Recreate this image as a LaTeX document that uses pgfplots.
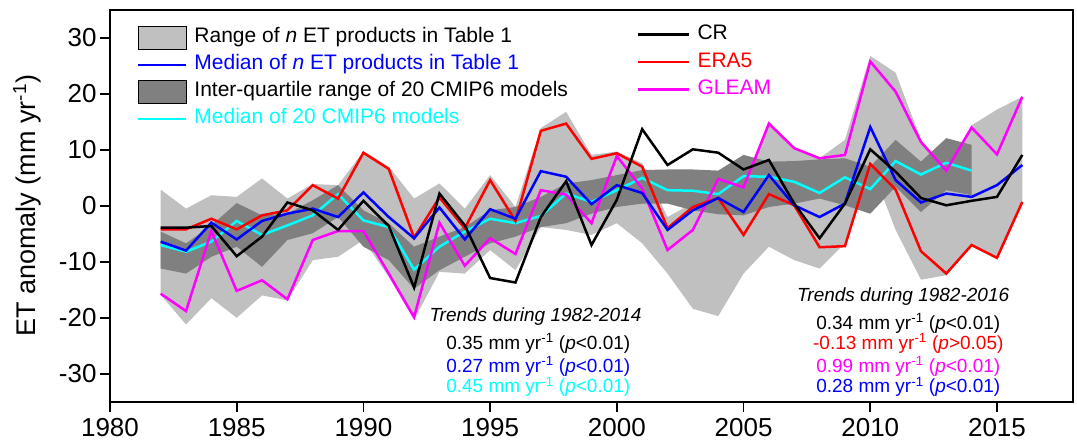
\documentclass[border=0pt]{standalone}
\usepackage{fontspec}
\setmainfont{Liberation Sans}
\usepackage{pgfplots}
\pgfplotsset{compat=1.18}
\usepgfplotslibrary{fillbetween}
\usepackage{pgfplotstable}
\definecolor{lgray}{RGB}{192,192,192}
\definecolor{dgray}{RGB}{128,128,128}
\definecolor{ccyan}{RGB}{0,255,255}
\definecolor{cmag}{RGB}{255,0,255}
\definecolor{cred}{RGB}{255,0,0}
\definecolor{cblue}{RGB}{0,0,255}

\pgfplotstableread{
year cr era5 gleam med lo hi
1982 -3.9 -4.2 -15.7 -6.4 -15.9 2.9
1983 -3.9 -4.2 -18.8 -8.0 -21.2 -0.5
1984 -3.6 -2.3 -4.5 -3.0 -16.5 1.9
1985 -9.0 -4.2 -15.2 -6.0 -20.0 1.6
1986 -5.5 -1.7 -13.3 -2.7 -16.0 4.9
1987 0.6 -0.8 -16.7 -1.4 -16.9 1.3
1988 -0.8 3.7 -6.1 -0.5 -9.7 3.9
1989 -4.3 1.3 -4.5 -2.0 -9.1 3.7
1990 0.9 9.5 -4.5 2.4 -6.1 9.7
1991 -3.6 6.6 -12.1 -2.0 -12.7 7.0
1992 -14.6 -5.7 -19.9 -5.8 -20.4 1.3
1993 2.2 1.5 -3.0 -0.3 -11.8 4.0
1994 -3.5 -4.0 -10.7 -6.0 -12.1 -0.5
1995 -12.9 4.6 -5.8 -0.6 -7.9 5.5
1996 -13.7 -2.7 -8.6 -2.3 -11.5 -0.2
1997 -2.0 13.4 2.8 6.2 -3.8 13.9
1998 4.4 14.7 2.0 5.2 -4.3 16.8
1999 -7.0 8.4 -3.1 0.3 -5.2 9.1
2000 1.1 9.4 8.9 3.7 -3.1 9.7
2001 13.7 7.0 3.1 2.3 -6.7 7.6
2002 7.3 -4.0 -7.9 -4.3 -12.1 -2.0
2003 10.1 -0.2 -4.3 -0.8 -18.4 0.5
2004 9.5 1.4 4.8 1.4 -19.7 5.0
2005 6.5 -5.2 3.3 -1.1 -12.1 4.0
2006 8.2 2.1 14.7 5.5 -7.3 14.7
2007 0.4 0.1 10.3 0.1 -9.7 10.3
2008 -5.8 -7.4 8.5 -2.0 -11.2 8.5
2009 0.4 -7.2 9.1 0.4 -6.7 11.8
2010 10.1 7.5 25.8 14.1 7.5 26.8
2011 6.1 2.9 20.4 4.6 -4.3 23.8
2012 1.4 -8.1 11.4 0.6 -13.2 11.8
2013 0.1 -12.1 6.3 2.2 -12.4 6.5
2014 0.9 -7.0 14.0 1.6 -7.3 14.4
2015 1.6 -9.3 9.2 3.7 -9.3 17.2
2016 9.1 0.7 19.5 7.3 0.7 19.5
}\products

\pgfplotstableread{
year med lo hi
1982 -7.0 -11.2 -4.6
1983 -8.2 -12.1 -6.7
1984 -6.4 -9.1 -3.5
1985 -2.7 -7.3 0.5
1986 -5.2 -10.9 -1.7
1987 -3.5 -6.1 -1.4
1988 -1.7 -4.9 1.0
1989 2.1 -2.0 3.7
1990 -2.6 -7.3 -0.8
1991 -3.8 -9.7 -3.1
1992 -11.4 -14.8 -7.3
1993 -7.3 -11.5 -5.5
1994 -4.6 -9.1 -3.8
1995 -2.3 -6.7 -0.8
1996 -3.1 -5.5 -0.2
1997 -1.8 -3.8 1.6
1998 2.2 -3.1 4.0
1999 0.7 -1.4 4.6
2000 2.8 -0.2 5.5
2001 5.0 0.4 6.4
2002 2.8 0.4 6.5
2003 2.7 -0.8 6.5
2004 2.1 -1.5 6.3
2005 5.3 -1.7 9.1
2006 5.2 -0.2 7.9
2007 4.3 0.4 8.0
2008 2.3 1.3 8.3
2009 5.1 0.1 8.5
2010 3.0 -1.4 7.0
2011 8.0 3.4 11.8
2012 5.6 -1.1 7.9
2013 7.7 2.8 12.1
2014 6.3 1.9 10.9
}\cmip

\pgfplotsset{
  rectimg/.style={legend image code/.code={\draw[##1] (0pt,-11.5pt) rectangle (48pt,11.5pt);}},
  lineimg/.style={legend image code/.code={\draw[##1] (0pt,0pt) -- (#1,0pt);}},
  base/.style={
    scale only axis, width=963pt, height=391.7pt,
    xmin=1980, xmax=2018, ymin=-35, ymax=35,
  },
  legfont/.style={font=\fontsize{21}{21}\selectfont},
}

\begin{document}
\begin{tikzpicture}
\begin{axis}[base,
  xtick={1980,1985,...,2015}, ytick={-30,-20,...,30},
  tick pos=left, tick align=outside, major tick length=10pt,
  tick style={line width=1.8pt, black},
  axis line style={line width=1.8pt},
  ticklabel style={font=\fontsize{26}{26}\selectfont},
  x tick label style={yshift=-3pt},
  /pgf/number format/assume math mode=true,
  /pgf/number format/1000 sep={},
  ylabel={ET anomaly (mm yr\textsuperscript{-1})},
  ylabel style={font=\fontsize{27}{27}\selectfont, at={(axis description cs:-0.0862,0.5)}, anchor=center},
  legend cell align=left,
  legend style={draw=none, fill=none, inner sep=0pt, outer sep=0pt,
    at={(rel axis cs:0.028,0.963)}, anchor=north west, legfont,
    nodes={text height=15pt, text depth=5pt, inner ysep=3.5pt, inner xsep=7pt}},
]
\coordinate (A) at (rel axis cs:0,0);
\coordinate (B) at (rel axis cs:1,1);
\addlegendimage{rectimg, fill=lgray, draw=black, line width=0.6pt}
\addlegendentry{Range of \textit{n} ET products in Table 1}
\addlegendimage{lineimg=48pt, cblue, line width=2.5pt}
\addlegendentry{\textcolor{cblue}{Median of \textit{n} ET products in Table 1}}
\addlegendimage{rectimg, fill=dgray, draw=black, line width=0.6pt}
\addlegendentry{Inter-quartile range of 20 CMIP6 models}
\addlegendimage{lineimg=48pt, ccyan, line width=2.5pt}
\addlegendentry{\textcolor{ccyan}{Median of 20 CMIP6 models}}

\addplot[name path=phi, draw=none, forget plot] table[x=year, y=hi] {\products};
\addplot[name path=plo, draw=none, forget plot] table[x=year, y=lo] {\products};
\addplot[fill=lgray, draw=none, forget plot] fill between[of=phi and plo];
\addplot[name path=chi, draw=none, forget plot] table[x=year, y=hi] {\cmip};
\addplot[name path=clo, draw=none, forget plot] table[x=year, y=lo] {\cmip};
\addplot[fill=dgray, draw=none, forget plot] fill between[of=chi and clo];

\addplot[ccyan, line width=2.5pt, forget plot] table[x=year, y=med] {\cmip};
\addplot[cmag, line width=2.5pt, forget plot] table[x=year, y=gleam] {\products};
\addplot[cred, line width=2.5pt, forget plot] table[x=year, y=era5] {\products};
\addplot[cblue, line width=2.5pt, forget plot] table[x=year, y=med] {\products};
\addplot[black, line width=2.5pt, forget plot] table[x=year, y=cr] {\products};

\begin{scope}[every node/.style={font=\fontsize{19}{19}\selectfont, anchor=center, inner sep=0pt}]
\node at (axis cs:1996.79,-19.86) {\textit{Trends during 1982-2014}};
\node at (axis cs:1996.9,-24.6) {0.35 mm yr\textsuperscript{-1} (\textit{p}<0.01)};
\node[text=cblue] at (axis cs:1996.9,-28.7) {0.27 mm yr\textsuperscript{-1} (\textit{p}<0.01)};
\node[text=ccyan] at (axis cs:1996.9,-32.4) {0.45 mm yr\textsuperscript{-1} (\textit{p}<0.01)};
\node at (axis cs:2011.3,-16.3) {\textit{Trends during 1982-2016}};
\node at (axis cs:2011.5,-21.0) {0.34 mm yr\textsuperscript{-1} (\textit{p}<0.01)};
\node[text=cred] at (axis cs:2011.5,-24.6) {-0.13 mm yr\textsuperscript{-1} (\textit{p}>0.05)};
\node[text=cmag] at (axis cs:2011.5,-28.7) {0.99 mm yr\textsuperscript{-1} (\textit{p}<0.01)};
\node[text=cblue] at (axis cs:2011.5,-32.4) {0.28 mm yr\textsuperscript{-1} (\textit{p}<0.01)};
\end{scope}
\end{axis}

\begin{axis}[base, hide axis,
  legend cell align=left,
  legend style={draw=none, fill=none, inner sep=0pt, outer sep=0pt,
    at={(rel axis cs:0.5473,0.9724)}, anchor=north west, legfont,
    nodes={text height=15pt, text depth=5pt, inner ysep=3.75pt, inner xsep=7pt}},
]
\addlegendimage{lineimg=51pt, black, line width=2.5pt}
\addlegendentry{CR}
\addlegendimage{lineimg=51pt, cred, line width=2.5pt}
\addlegendentry{\textcolor{cred}{ERA5}}
\addlegendimage{lineimg=51pt, cmag, line width=2.5pt}
\addlegendentry{\textcolor{cmag}{GLEAM}}
\end{axis}

\pgfresetboundingbox
\path ([shift={(-110pt,-45.3pt)}]A) rectangle ([shift={(4pt,10pt)}]B);
\end{tikzpicture}
\end{document}
